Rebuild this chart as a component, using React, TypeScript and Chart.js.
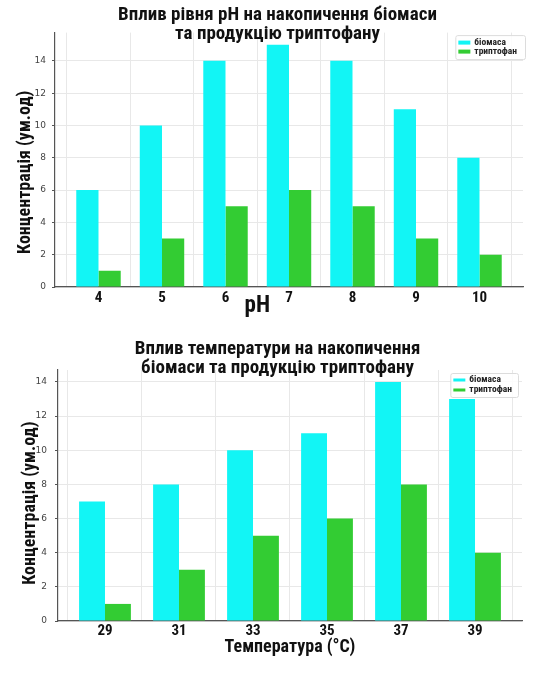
import React, { useEffect, useRef } from 'react';
import { Chart, registerables } from 'chart.js';

Chart.register(...registerables);

// ---------- data ----------
const phValues = [4, 5, 6, 7, 8, 9, 10];
const phBiomass = [6, 10, 14, 15, 14, 11, 8];
const phTryptophan = [1, 3, 5, 6, 5, 3, 2];

const tempValues = [29, 31, 33, 35, 37, 39];
const tempBiomass = [7, 8, 10, 11, 14, 13];
const tempTryptophan = [1, 3, 5, 6, 8, 4];

const seriesLabels = ['біомаса', 'триптофан'];
const yTitle = 'Концентрація (ум.од)';
const title1 = ['Вплив рівня pH на накопичення біомаси', 'та продукцію триптофану'];
const title2 = ['Вплив температури на накопичення', 'біомаси та продукцію триптофану'];
const xTitle1 = 'pH';
const xTitle2 = 'Температура (°C)';

// ---------- styles ----------
const COND = "'Roboto Condensed', 'Open Sans', sans-serif";
const CYAN = '#12f5f5';
const GREEN = '#33cc33';
const GRID = '#e8e8e8';
const AXIS = '#555555';

const insideLegend = {
  id: 'insideLegend',
  afterDatasetsDraw(chart: any) {
    const o = chart.options.plugins.insideLegend;
    if (!o) return;
    const ctx = chart.ctx;
    const area = chart.chartArea;
    ctx.save();
    ctx.font = `bold ${o.fontSize}px ${COND}`;
    const items = chart.data.datasets.map((d: any) => ({ label: d.label, color: d.backgroundColor }));
    const textW = Math.max(...items.map((i: any) => ctx.measureText(i.label).width));
    const w = o.padL + o.patchW + o.gap + textW + o.padR;
    const h = o.padT * 2 + items.length * o.rowH;
    const x0 = area.right - o.right - w;
    const y0 = area.top + o.top;
    ctx.fillStyle = 'rgba(255,255,255,0.85)';
    ctx.strokeStyle = '#dcdcdc';
    ctx.lineWidth = 1;
    ctx.beginPath();
    ctx.roundRect(x0 + 0.5, y0 + 0.5, w, h, 2);
    ctx.fill();
    ctx.stroke();
    items.forEach((it: any, i: number) => {
      const cy = y0 + o.padT + o.rowH * (i + 0.5);
      ctx.fillStyle = it.color;
      ctx.fillRect(x0 + o.padL, cy - o.patchH / 2, o.patchW, o.patchH);
      ctx.fillStyle = '#222';
      ctx.textBaseline = 'middle';
      ctx.textAlign = 'left';
      ctx.fillText(it.label, x0 + o.padL + o.patchW + o.gap, cy);
    });
    ctx.restore();
  },
};

// axis titles placed along their axis at a chosen axis value
const axisLabelAt = {
  id: 'axisLabelAt',
  afterDraw(chart: any) {
    const o = chart.options.plugins.axisLabelAt;
    if (!o) return;
    const ctx = chart.ctx;
    ctx.save();
    ctx.fillStyle = '#111';
    ctx.textAlign = 'center';
    ctx.textBaseline = 'middle';
    if (o.x) {
      const sx = chart.scales.x;
      ctx.font = `bold ${o.x.fontSize}px ${COND}`;
      ctx.fillText(o.x.text, sx.getPixelForValue(o.x.value), sx.top + o.x.dy);
    }
    if (o.y) {
      const sy = chart.scales.y;
      ctx.font = `bold ${o.y.fontSize}px ${COND}`;
      ctx.translate(sy.left + o.y.dx, sy.getPixelForValue(o.y.value));
      ctx.rotate(-Math.PI / 2);
      ctx.fillText(o.y.text, 0, 0);
    }
    ctx.restore();
  },
};

interface Spec {
  xs: number[];
  a: number[];
  b: number[];
  title: string[];
  titlePad: { top: number; bottom: number };
  yWidth: number;
  yTickPad: number;
  xHeight: number;
  rightPad: number;
  xTickPad: number;
  xTitle?: string;
  xTitleBottom?: number;
  labels: any;
  legend: any;
}

function makeConfig(s: Spec): any {
  const step = s.xs[1] - s.xs[0];
  const lo = s.xs[0] - 0.35 * step;
  const hi = s.xs[s.xs.length - 1] + 0.35 * step;
  const m = (hi - lo) * 0.05;
  const yMax = Math.max(...s.a, ...s.b) * 1.05;
  return {
    type: 'bar',
    data: {
      datasets: [
        {
          label: seriesLabels[0],
          data: s.xs.map((x, i) => ({ x, y: s.a[i] })),
          backgroundColor: CYAN,
          borderWidth: 0,
          categoryPercentage: 0.7,
          barPercentage: 1.0,
        },
        {
          label: seriesLabels[1],
          data: s.xs.map((x, i) => ({ x, y: s.b[i] })),
          backgroundColor: GREEN,
          borderWidth: 0,
          categoryPercentage: 0.7,
          barPercentage: 1.0,
        },
      ],
    },
    plugins: [insideLegend, axisLabelAt],
    options: {
      responsive: false,
      animation: false,
      layout: { padding: 0 },
      plugins: {
        legend: { display: false },
        tooltip: { enabled: false },
        title: {
          display: true,
          text: s.title,
          color: '#111',
          font: { family: COND, size: 19, weight: 'bold', lineHeight: 1 },
          padding: s.titlePad,
        },
        insideLegend: s.legend,
        axisLabelAt: s.labels,
      },
      scales: {
        x: {
          type: 'linear',
          min: lo - m,
          max: hi + m,
          offset: false,
          afterBuildTicks: (scale: any) => {
            scale.ticks = s.xs.map((v) => ({ value: v }));
          },
          afterFit: (scale: any) => {
            scale.height = s.xHeight;
            scale.paddingRight = s.rightPad;
          },
          grid: { color: GRID, drawTicks: false },
          border: { color: AXIS, width: 1.2 },
          ticks: {
            color: '#111',
            padding: s.xTickPad,
            font: { family: COND, size: 15, weight: 'bold', lineHeight: 1 },
            autoSkip: false,
            maxRotation: 0,
          },
          title: {
            display: !!s.xTitle,
            text: s.xTitle || '',
            color: '#111',
            font: { family: COND, size: 18, weight: 'bold', lineHeight: 1 },
            padding: { top: 0, bottom: s.xTitleBottom || 0 },
          },
        },
        y: {
          min: 0,
          max: yMax,
          afterFit: (scale: any) => {
            scale.width = s.yWidth;
          },
          grid: { color: GRID, tickColor: AXIS, tickLength: 3 },
          border: { color: AXIS, width: 1.2 },
          ticks: {
            stepSize: 2,
            includeBounds: false,
            color: '#444',
            padding: s.yTickPad,
            font: { family: "'DejaVu Sans', sans-serif", size: 9 },
          },
          title: { display: false },
        },
      },
    },
  };
}

const spec1: Spec = {
  xs: phValues,
  a: phBiomass,
  b: phTryptophan,
  title: title1,
  titlePad: { top: 6, bottom: -11.4 },
  yWidth: 55,
  yTickPad: 6,
  xHeight: 38,
  rightPad: 32,
  xTickPad: 4,
  labels: {
    x: { text: xTitle1, value: 6.5, dy: 19, fontSize: 23 },
    y: { text: yTitle, value: 7.1, dx: 25, fontSize: 18 },
  },
  legend: { fontSize: 9.5, padL: 3, padR: 8, padT: 3, rowH: 9, patchW: 12, patchH: 4, gap: 4, right: -2, top: 2.5 },
};

const spec2: Spec = {
  xs: tempValues,
  a: tempBiomass,
  b: tempTryptophan,
  title: title2,
  titlePad: { top: 15, bottom: -8 },
  yWidth: 58,
  yTickPad: 8,
  xHeight: 55,
  rightPad: 33,
  xTickPad: 2.5,
  xTitle: xTitle2,
  xTitleBottom: 20,
  labels: {
    y: { text: yTitle, value: 6.9, dx: 30, fontSize: 18 },
  },
  legend: { fontSize: 9.5, padL: 3, padR: 6, padT: 2, rowH: 10, patchW: 12, patchH: 3, gap: 4, right: 4, top: 3 },
};

export default function App() {
  const ref1 = useRef<HTMLCanvasElement>(null);
  const ref2 = useRef<HTMLCanvasElement>(null);

  useEffect(() => {
    const c1 = new Chart(ref1.current as HTMLCanvasElement, makeConfig(spec1));
    const c2 = new Chart(ref2.current as HTMLCanvasElement, makeConfig(spec2));
    return () => {
      c1.destroy();
      c2.destroy();
    };
  }, []);

  return (
    <div style={{ position: 'absolute', left: 0, top: 0, width: 555, height: 676, background: '#fff' }}>
      <canvas ref={ref1} width={555} height={325} style={{ display: 'block', width: 555, height: 325 }} />
      <canvas ref={ref2} width={555} height={351} style={{ display: 'block', width: 555, height: 351 }} />
    </div>
  );
}
